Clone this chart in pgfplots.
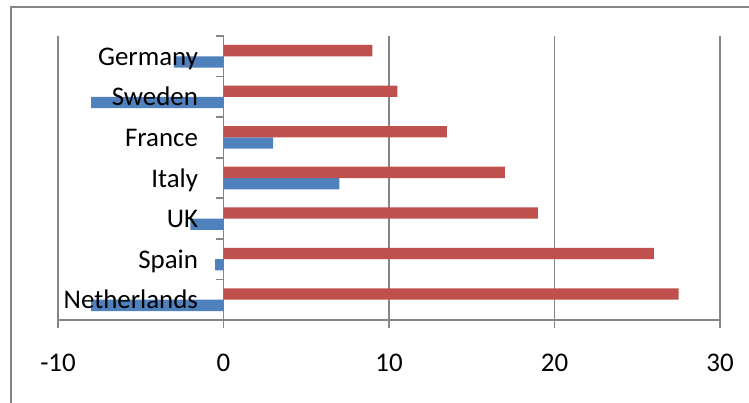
\documentclass[border=0pt]{standalone}
\usepackage{pgfplots}
\pgfplotsset{compat=1.18}
\usepackage{fontspec}
\setmainfont{Carlito}
\definecolor{exred}{HTML}{C0504D}
\definecolor{exblue}{HTML}{4F81BD}
\definecolor{exgrid}{HTML}{868686}
\pgfplotsset{
  mybase/.style={
    at={(58bp,82bp)}, anchor=south west,
    scale only axis, width=662bp, height=284bp,
    xmin=-10, xmax=30, ymin=0.5, ymax=7.5,
    tick label style={font=\fontsize{27}{30}\selectfont},
  }
}
\begin{document}
\begin{tikzpicture}[x=1bp,y=1bp]
\path[use as bounding box] (0,0) rectangle (749,402);
\draw[exgrid, line width=1.4bp] (11,-5) -- (11,395) -- (760,395);
\begin{axis}[
  mybase,
  xbar, bar width=11.3bp,
  axis x line*=bottom, axis y line*=middle,
  axis line style={exgrid, line width=1.6bp},
  xtick={-10,0,10,20,30}, xticklabels={-10,0,10,20,30},
  xmajorgrids, grid style={exgrid, line width=1.6bp},
  ytick={1,2,3,4,5,6,7}, yticklabels={},
  minor ytick={0.5,1.5,2.5,3.5,4.5,5.5,6.5,7.5},
  tick align=outside,
  major tick length=8bp, minor tick length=8bp,
  x tick style={exgrid, line width=1.6bp},
  major y tick style={draw=none},
  minor y tick style={exgrid, line width=1.6bp},
  xticklabel style={yshift=-23bp},
  clip=false,
]
\addplot[fill=exblue, draw=none, bar shift=-5.65bp] coordinates {
  (-8,1) (-0.5,2) (-2,3) (7,4) (3,5) (-8,6) (-3,7)};
\addplot[fill=exred, draw=none, bar shift=5.65bp] coordinates {
  (27.5,1) (26,2) (19,3) (17,4) (13.5,5) (10.5,6) (9,7)};
\end{axis}
\begin{axis}[
  mybase,
  axis x line=none, axis y line*=middle,
  axis line style={draw=none},
  xtick=\empty,
  ytick={1,2,3,4,5,6,7},
  yticklabels={Netherlands,Spain,UK,Italy,France,Sweden,Germany},
  major tick length=0bp, y tick style={draw=none},
  yticklabel style={anchor=base east, xshift=-22bp, yshift=-9bp},
]
\end{axis}
\end{tikzpicture}
\end{document}
